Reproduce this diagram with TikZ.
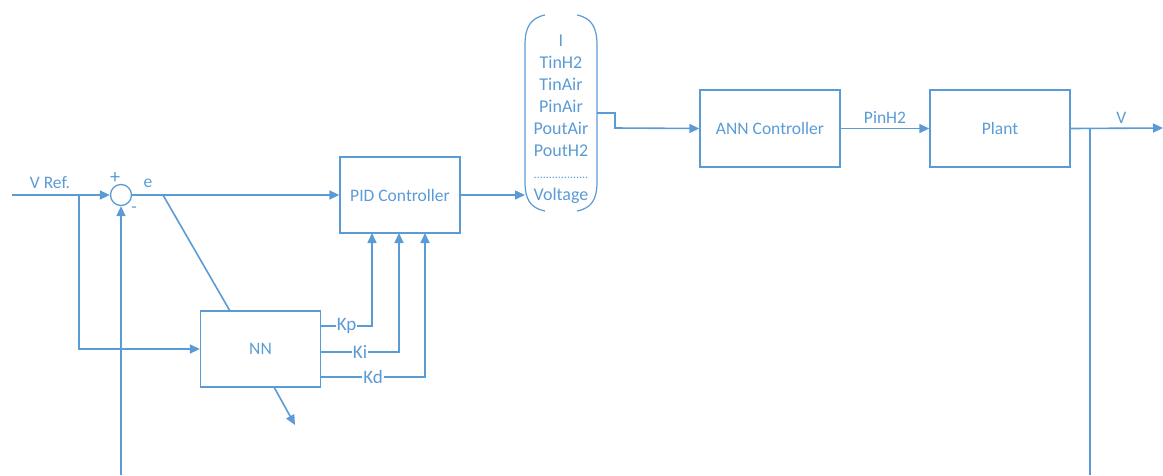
\documentclass[tikz,border=0pt]{standalone}
\usepackage{fontspec}
\setmainfont{Carlito}
\usepackage{tikz}
\usetikzlibrary{positioning, arrows.meta, calc}
\definecolor{lineblue}{HTML}{5B9BD5}
\tikzset{
  blk/.style   ={draw=lineblue, line width=1.3pt, align=center, text=lineblue,
                 minimum width=120pt, minimum height=76pt, font=\fontsize{17.5}{20}\selectfont},
  sumc/.style  ={draw=lineblue, line width=1.3pt, circle, minimum size=21pt, inner sep=0pt},
  sig/.style   ={line width=1.6pt, draw=lineblue, -{Triangle[length=10pt,width=9pt]}},
  wire/.style  ={line width=1.6pt, draw=lineblue},
  lbl/.style   ={text=lineblue, font=\fontsize{17.5}{20}\selectfont, inner sep=1pt},
  gain/.style  ={text=lineblue, font=\fontsize{19}{20}\selectfont, fill=white, inner sep=1pt},
}

\begin{document}
\begin{tikzpicture}[x=1pt, y=-1pt]
  \useasboundingbox (0,0) rectangle (1163,475);
  % blocks
  \node[sumc] (sum) at (121,195) {};
  \node[blk] (pid) at (400,195) {PID Controller};
  \node[blk] (nn) at (260.5,349) {NN};
  \node[blk, minimum width=140pt, minimum height=77pt] (ann) at (770,128.5) {ANN Controller};
  \node[blk, minimum width=140pt, minimum height=77pt] (plant) at (1000,128.5) {Plant};
  \node[lbl, align=center, font=\fontsize{18}{22}\selectfont] (vec) at (561,119)
    {I\\TinH2\\TinAir\\PinAir\\PoutAir\\PoutH2\\{\fontsize{12}{12}\selectfont ..................}\\Voltage};
  % parentheses round the signal list
  \draw[wire, line width=1.2pt] (545,15) .. controls (530,18) and (525,28) .. (525,45)
    -- (525,182) .. controls (525,199) and (530,208) .. (545,211);
  \draw[wire, line width=1.2pt] (577,15) .. controls (592,18) and (597,28) .. (597,45)
    -- (597,182) .. controls (597,199) and (592,208) .. (577,211);
  \coordinate (vecL) at (525,195);
  \coordinate (vecR) at (597,113);
  % points on the wires
  \coordinate (vin) at (12,195);
  \coordinate (br1) at (79,195);
  \coordinate (fbin) at (121,475);
  \coordinate (etap) at (163,195);
  \coordinate (nntop) at (230,311);
  \coordinate (nnbot) at (274,387);
  \coordinate (nnout) at (295,425);
  \coordinate (vout) at (1163,128);
  \coordinate (br2) at (1090,128);
  \coordinate (fbout) at (1090,475);
  % main path
  \draw[sig] (vin) -- (sum.west);
  \node[lbl] (vref) at (50,183) {V Ref.};
  \node[lbl, font=\fontsize{20}{20}\selectfont] (plus) at (115,178) {+};
  \node[lbl] (minus) at (134,210) {-};
  \node[lbl] (err) at (148,183) {e};
  \draw[sig] (sum.east) -- (pid.west);
  \draw[sig] (fbin) -- (sum.south);
  \draw[sig] (br1) |- (nn.west);
  \draw[wire] (etap) -- (nntop);
  \draw[sig] (nnbot) -- (nnout);
  % gains
  \draw[sig] (nn.east |- 0,326) -- node[gain, pos=0.5] {Kp} (372,326) -- (372,233);
  \draw[sig] (nn.east |- 0,352) -- node[gain, pos=0.5] {Ki} (399,352) -- (399,233);
  \draw[sig] (nn.east |- 0,377) -- node[gain, pos=0.5] {Kd} (425,377) -- (425,233);
  % right part
  \draw[sig] (pid.east) -- (vecL);
  \draw[sig] (vecR) -- (615,113) -- (615,128) -- (ann.west);
  \draw[sig] (ann.east) -- node[lbl, above=3pt] {PinH2} (plant.west);
  \draw[sig] (plant.east) -- node[lbl, above=3pt, pos=0.55] {V} (vout);
  \draw[wire] (br2) -- (fbout);
\end{tikzpicture}
\end{document}
